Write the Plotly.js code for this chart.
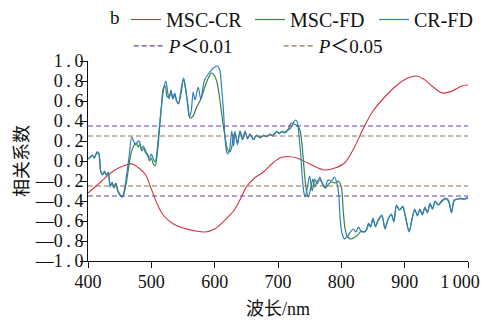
<!DOCTYPE html>
<html>
<head>
<meta charset="utf-8">
<script src="https://cdn.plot.ly/plotly-3.0.1.min.js"></script>
<style>
html,body{margin:0;padding:0;background:#fff;}
#chart{width:485px;height:320px;}
</style>
</head>
<body>
<div id="chart"></div>
<script>
// Wavelength (nm) and correlation coefficients
const crX = [400,420,440,460,470,480,490,500,510,520,535,550,570,585,600,608,624,630,643,650,663,677,690,703,714,730,750,774,790,805,820,835,850,870,890,905,918,930,945,960,975,990,1000];
const crY = [-0.32,-0.21,-0.10,-0.04,-0.03,-0.07,-0.13,-0.28,-0.44,-0.55,-0.63,-0.67,-0.70,-0.71,-0.68,-0.64,-0.54,-0.50,-0.35,-0.26,-0.17,-0.11,-0.03,0.03,0.045,0.03,-0.03,-0.09,-0.07,-0.02,0.13,0.33,0.50,0.65,0.77,0.83,0.85,0.82,0.74,0.68,0.70,0.75,0.76];

const fdX = [400,404,407,410,414,417,420,423,426,429,432,435,438,441,444,447,450,454,457,461,465,469,473,476,479,482,485,488,491,494,497,500,503,506,509,512,516,519,522,525,528,531,534,537,540,543,547,551,555,558,561,566,571,579,585,590,595,600,604,608,613,617,620,624,627,630,632,636,640,644,648,652,656,661,666,672,677,682,687,692,698,702,706,711,716,721,725,731,735,738,742,745,748,752,755,758,762,766,770,775,780,785,790,795,800,803,806,810,816,824,832,837,840,843,846,850,854,858,864,869,874,879,883,887,892,897,901,907,912,916,920,924,928,932,936,940,944,948,953,958,964,969,974,978,984,989,995,1000];
const fdY = [0.02,0.04,0.06,0.03,0.08,0.07,-0.10,-0.14,-0.11,-0.14,-0.12,-0.25,-0.22,-0.27,-0.23,-0.30,-0.34,-0.36,-0.32,-0.20,-0.03,0.10,0.16,0.18,0.14,0.17,0.10,0.13,0.08,0.07,0.00,0.03,-0.03,-0.05,0.05,0.25,0.55,0.73,0.75,0.64,0.65,0.68,0.62,0.66,0.60,0.57,0.68,0.82,0.69,0.55,0.43,0.45,0.53,0.63,0.75,0.83,0.88,0.85,0.78,0.62,0.38,0.22,0.12,0.09,0.14,0.26,0.28,0.18,0.30,0.22,0.29,0.23,0.27,0.22,0.25,0.24,0.25,0.25,0.26,0.26,0.29,0.28,0.29,0.29,0.32,0.38,0.37,0.35,0.30,0.16,-0.14,-0.30,-0.36,-0.26,-0.18,-0.26,-0.20,-0.19,-0.22,-0.27,-0.23,-0.21,-0.22,-0.20,-0.26,-0.50,-0.68,-0.76,-0.78,-0.75,-0.70,-0.71,-0.69,-0.63,-0.66,-0.58,-0.65,-0.60,-0.55,-0.67,-0.58,-0.54,-0.60,-0.45,-0.49,-0.46,-0.55,-0.70,-0.57,-0.49,-0.54,-0.49,-0.53,-0.47,-0.51,-0.43,-0.48,-0.41,-0.44,-0.41,-0.38,-0.40,-0.51,-0.40,-0.38,-0.38,-0.38,-0.37];

const cfX = [400,404,407,410,414,417,420,423,426,429,432,435,438,441,444,447,450,454,457,461,465,469,472,475,478,481,484,487,490,494,497,500,503,506,509,512,516,520,523,526,528,531,534,537,540,543,547,551,554,557,560,563,566,569,574,578,584,590,598,604,608,611,614,616,619,621,624,627,630,632,636,640,644,648,652,656,661,666,672,677,682,687,692,698,702,706,711,716,720,724,728,731,733,736,738,741,743,747,750,754,758,762,766,770,774,779,785,789,793,796,798,801,805,811,819,823,827,831,835,840,843,846,850,854,858,864,869,874,879,883,887,892,897,901,907,912,916,920,924,928,932,936,940,944,948,953,958,964,969,974,978,984,989,995,1000];
const cfY = [0.02,0.04,0.06,0.03,0.09,0.08,-0.10,-0.13,-0.10,-0.14,-0.11,-0.26,-0.21,-0.26,-0.22,-0.29,-0.33,-0.36,-0.30,-0.14,0.05,0.24,0.20,0.16,0.19,0.20,0.12,0.15,0.12,0.05,0.03,0.07,0.02,-0.01,0.10,0.30,0.55,0.74,0.80,0.68,0.62,0.71,0.63,0.68,0.60,0.58,0.72,0.83,0.72,0.58,0.44,0.50,0.69,0.61,0.74,0.62,0.81,0.87,0.93,0.95,0.91,0.73,0.49,0.26,0.09,0.07,0.13,0.30,0.15,0.30,0.16,0.30,0.21,0.30,0.22,0.27,0.21,0.26,0.23,0.26,0.24,0.27,0.25,0.30,0.27,0.30,0.28,0.31,0.33,0.38,0.41,0.38,0.26,0.06,-0.14,-0.32,-0.36,-0.24,-0.15,-0.30,-0.18,-0.23,-0.16,-0.23,-0.27,-0.19,-0.20,-0.16,-0.22,-0.34,-0.57,-0.72,-0.78,-0.74,-0.68,-0.71,-0.66,-0.70,-0.71,-0.68,-0.62,-0.66,-0.57,-0.66,-0.59,-0.54,-0.68,-0.58,-0.53,-0.61,-0.44,-0.49,-0.45,-0.55,-0.71,-0.57,-0.48,-0.55,-0.48,-0.54,-0.46,-0.52,-0.42,-0.48,-0.40,-0.44,-0.40,-0.37,-0.39,-0.52,-0.39,-0.38,-0.37,-0.38,-0.36];

// Significance thresholds
const p01 = 0.35;
const p05 = 0.25;
const xSpan = [400, 1000];

const xTickVals = [400,500,600,700,800,900];
const xTickText = ['400','500','600','700','800','900'];
const xLastTickVal = [1000];
const xLastTickText = ['1\u2009000'];
const yTickVals = [-1,-0.8,-0.6,-0.4,-0.2,0,0.2,0.4,0.6,0.8,1];
const yTickText = yTickVals.map(v => {
  const s = Math.abs(v).toFixed(1).replace('.', '\u2009.\u2009');
  return (v < 0 ? '\u2014' : '') + s;
});

const serif = 'Liberation Serif, Noto Sans CJK SC, serif';
const cjk = 'Liberation Serif, Noto Sans CJK SC, sans-serif';

const traces = [
  {x:[xSpan[0],xSpan[1],null,xSpan[0],xSpan[1]], y:[p01,p01,null,-p01,-p01], name:'<i>P</i>\uFF1C0.01', mode:'lines',
   xaxis:'x2', line:{color:'#6b3fa6', width:1.2, dash:'5px,3px'}, legend:'legend2'},
  {x:[xSpan[0],xSpan[1],null,xSpan[0],xSpan[1]], y:[p05,p05,null,-p05,-p05], name:'<i>P</i>\uFF1C0.05', mode:'lines',
   xaxis:'x2', line:{color:'#94704f', width:1.2, dash:'5px,3px'}, legend:'legend2'},
  {x:crX, y:crY, name:'MSC-CR', mode:'lines', line:{color:'#d2323f', width:1.1, shape:'spline', smoothing:1}},
  {x:fdX, y:fdY, name:'MSC-FD', mode:'lines', line:{color:'#3b843f', width:1.2, shape:'spline', smoothing:0.8}},
  {x:cfX, y:cfY, name:'CR-FD', mode:'lines', legendwidth:55, line:{color:'#2f7fc0', width:1.2, shape:'spline', smoothing:0.8}}
];

const layout = {
  width:485, height:320,
  margin:{l:88, r:17, t:61, b:59},
  paper_bgcolor:'#fff', plot_bgcolor:'#fff',
  font:{family:serif, size:18, color:'#111'},
  showlegend:true,
  legend:{orientation:'h', xref:'paper', yref:'container', x:0.1, y:1.0, xanchor:'left', yanchor:'top',
          entrywidth:79, entrywidthmode:'pixels',
          font:{family:serif, size:20, color:'#111'}, bgcolor:'rgba(0,0,0,0)', traceorder:'normal'},
  legend2:{orientation:'h', xref:'paper', yref:'paper', x:0.107, y:1.17, xanchor:'left', yanchor:'top',
          entrywidth:105, entrywidthmode:'pixels',
          font:{family:cjk, size:19, color:'#111'}, bgcolor:'rgba(0,0,0,0)', traceorder:'normal'},
  xaxis:{range:xSpan, tickvals:xTickVals, ticktext:xTickText, ticks:'outside', ticklen:6, tickwidth:1,
         tickcolor:'#111', showline:true, linecolor:'#111', linewidth:1, showgrid:false, zeroline:false,
         ticklabelstandoff:-2,
         tickfont:{family:serif, size:18, color:'#111'},
         title:{text:'波长/nm', font:{family:cjk, size:18, color:'#111'}, standoff:11}},
  xaxis2:{range:xSpan, overlaying:'x', side:'bottom', tickvals:[...xTickVals, ...xLastTickVal],
          ticktext:[...xTickVals.map(() => ''), ...xLastTickText], ticks:'outside', ticklen:6, tickwidth:1,
          tickcolor:'#111', showline:false, showgrid:false, zeroline:false,
          ticklabelstandoff:-2, ticklabelshift:-8, ticklabeloverflow:'allow',
          tickfont:{family:serif, size:18, color:'#111'}},
  yaxis:{range:[-1,1], tickvals:yTickVals, ticktext:yTickText, ticks:'outside', ticklen:7, tickwidth:1,
         tickcolor:'#111', showline:true, linecolor:'#111', linewidth:1, showgrid:false, zeroline:false,
         ticklabelstandoff:-7,
         tickfont:{family:serif, size:18, color:'#111'},
         title:{text:'相关系数', font:{family:cjk, size:18, color:'#111'}, standoff:1}},
  annotations:[{text:'b', xref:'paper', yref:'paper', x:0.071, y:1.22, xanchor:'center', yanchor:'middle',
                showarrow:false, font:{family:serif, size:19, color:'#111'}}]
};

Plotly.newPlot('chart', traces, layout, {staticPlot:true, displayModeBar:false});
</script>
</body>
</html>
